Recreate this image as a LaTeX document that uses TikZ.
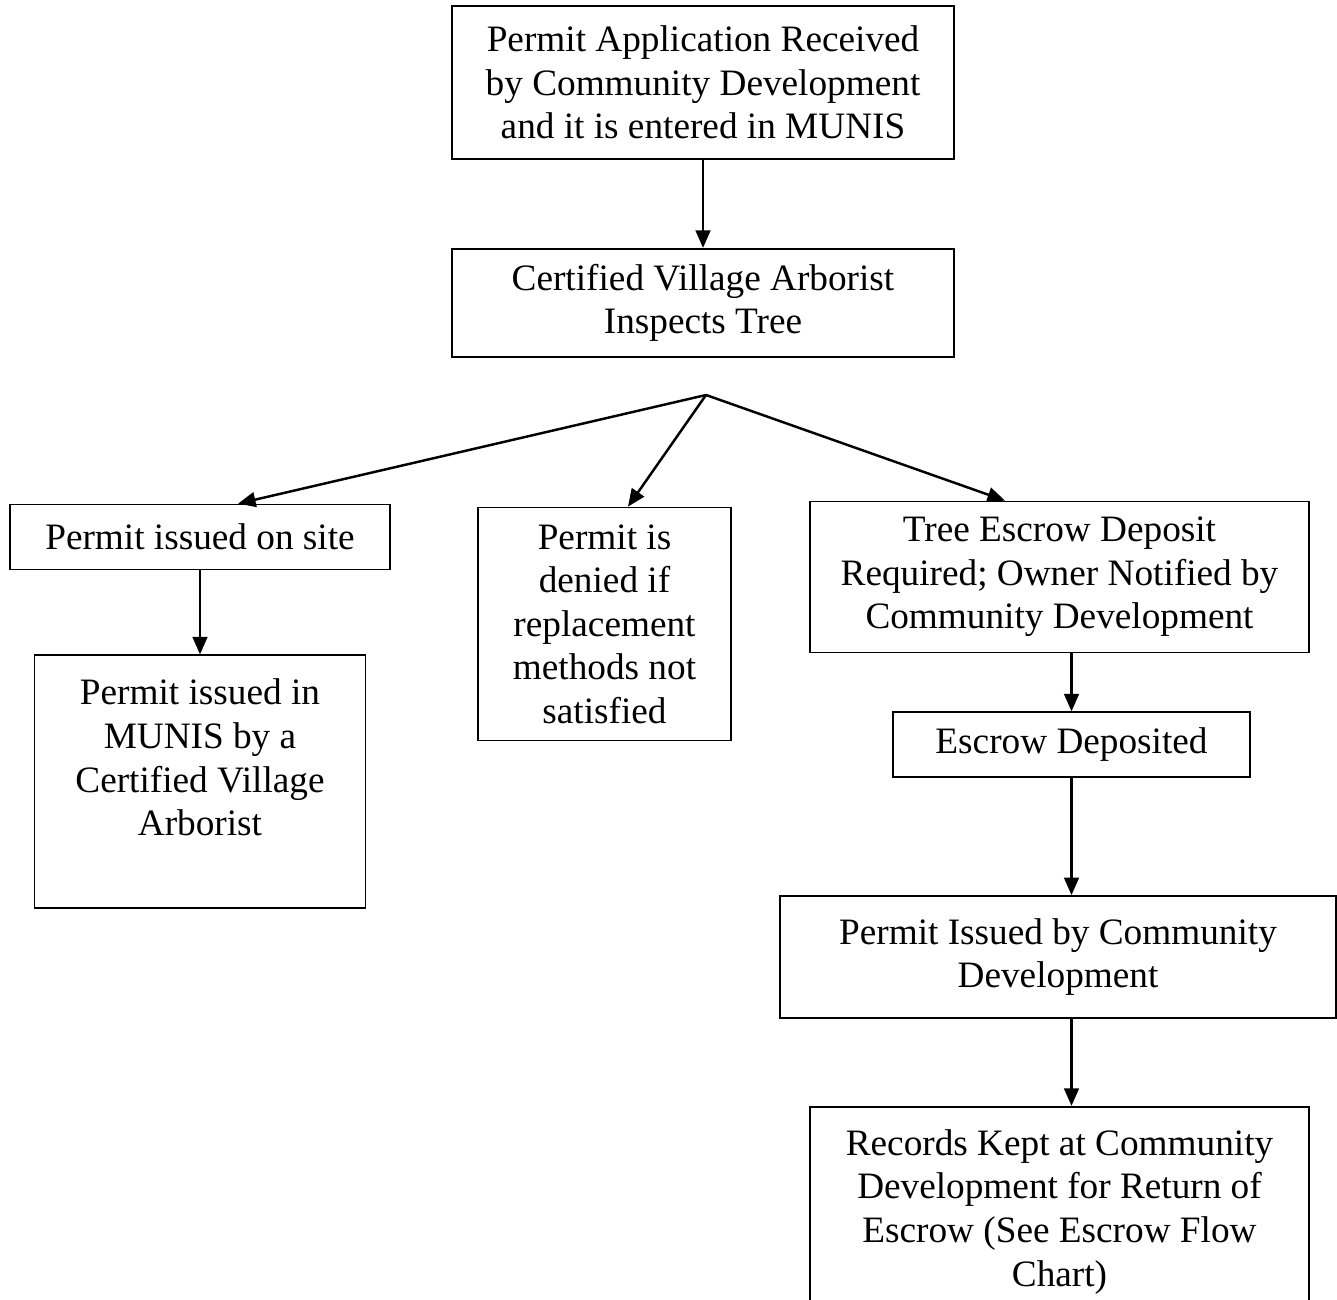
\documentclass[tikz,border=0pt]{standalone}
\usepackage{fontspec}
\setmainfont{Liberation Serif}
\usetikzlibrary{arrows.meta,positioning}
\tikzstyle{pbox} = [rectangle, draw, line width=0.5pt, align=center, inner sep=0pt,
    font=\fontsize{10.6}{12.4}\selectfont]

\begin{document}
\begin{tikzpicture}[->,>={Triangle[length=5pt,width=4.2pt]},line width=0.7pt]
  \useasboundingbox (0,0) rectangle (13.37,-13);

  \node[pbox,minimum width=5.02cm,minimum height=1.53cm] (1) at (7.03,-0.825) {Permit Application Received\\by Community Development\\and it is entered in MUNIS};
  \node[pbox,minimum width=5.02cm,minimum height=1.08cm] (2) [below=0.88cm of 1] {Certified Village Arborist\\Inspects Tree};
  \node[pbox,minimum width=3.80cm,minimum height=0.65cm] (3) [below=1.46cm of 2,xshift=-5.03cm] {Permit issued on site};
  \node[pbox,minimum width=2.53cm,minimum height=2.33cm] (4) [below=1.49cm of 2,xshift=-0.985cm] {Permit is\\denied if\\replacement\\methods not\\satisfied};
  \node[pbox,minimum width=4.99cm,minimum height=1.51cm] (5) [below=1.43cm of 2,xshift=3.565cm] {Tree Escrow Deposit\\Required; Owner Notified by\\Community Development};
  \node[pbox,minimum width=3.31cm,minimum height=2.53cm] (6) [below=0.84cm of 3] {Permit issued in\\MUNIS by a\\Certified Village\\Arborist\\[1.5pt]\mbox{}};
  \node[pbox,minimum width=3.57cm,minimum height=0.65cm] (7) [below=0.58cm of 5,xshift=0.12cm] {Escrow Deposited};
  \node[pbox,minimum width=5.56cm,minimum height=1.22cm] (8) [below=1.17cm of 7,xshift=-0.135cm] {Permit Issued by Community\\Development};
  \node[pbox,minimum width=4.99cm,minimum height=2.10cm] (9) [below=0.87cm of 8,xshift=0.015cm] {Records Kept at Community\\Development for Return of\\Escrow (See Escrow Flow\\Chart)};

  % branch point below the inspection box
  \coordinate (br) at (7.06,-3.95);

  \path (1) edge (2)
  (br) edge ([xshift=0.38cm]3.north)
  (br) edge ([xshift=0.235cm]4.north)
  (br) edge ([xshift=-0.545cm]5.north)
  (3) edge (6)
  (5.south -| 7) edge (7)
  (7) edge (8.north -| 7)
  (8.south -| 7) edge (9.north -| 7);
\end{tikzpicture}
\end{document}
